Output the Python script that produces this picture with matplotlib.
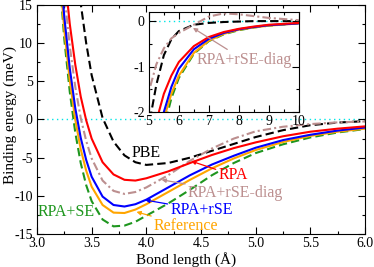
import matplotlib
matplotlib.use('Agg')
import matplotlib.pyplot as plt
from matplotlib.ticker import MultipleLocator, FormatStrFormatter

plt.rcParams['font.family'] = ['Liberation Serif', 'DejaVu Serif']
plt.rcParams['axes.unicode_minus'] = False

#
# Data, bond length in Angstrom, energy in meV
#

bond_length = [3.2, 3.25, 3.3, 3.35, 3.4, 3.45, 3.5, 3.6, 3.7, 3.8, 3.9, 4.0, 4.2, 4.4,
               4.6, 4.8, 5.0, 5.25, 5.5, 5.75, 6.0, 6.5, 7.0, 7.5, 8.0, 8.5, 9.0, 10.0]

pbe = [60.0, 44.0, 30.0, 21.5, 15.2, 10.0, 5.8, 0.2, -2.9, -4.7, -5.6, -5.95, -5.7, -5.0,
       -4.1, -3.2, -2.3, -1.4, -0.75, -0.4, -0.22, -0.08, -0.04, -0.02, -0.01, 0.0, 0.0, 0.0]

rpa = [28.2, 19.4, 12.5, 7.2, 3.0, -0.1, -2.5, -5.6, -7.2, -7.9, -8.0, -7.7, -6.8, -5.7,
       -4.65, -3.75, -3.0, -2.2, -1.6, -1.2, -0.9, -0.55, -0.35, -0.24, -0.17, -0.12, -0.08, -0.04]

rpa_rse_diag = [25.4, 16.5, 9.6, 4.3, 0.2, -2.8, -5.1, -8.0, -9.35, -9.75, -9.5, -8.9, -7.3, -5.4,
                -3.8, -2.5, -1.55, -0.95, -0.6, -0.38, -0.26, -0.08, 0.1, 0.17, 0.15, 0.11, 0.07, 0.02]

rpa_rse = [22.2, 13.4, 6.7, 1.5, -2.4, -5.3, -7.5, -10.1, -11.2, -11.4, -11.1, -10.5, -8.9, -7.3,
           -5.9, -4.75, -3.7, -2.7, -2.0, -1.45, -1.05, -0.62, -0.39, -0.26, -0.18, -0.13, -0.09, -0.05]

reference = [20.5, 11.7, 5.1, 0.0, -3.9, -6.7, -8.8, -11.2, -12.2, -12.25, -11.8, -11.1, -9.5, -7.9,
             -6.4, -5.1, -4.0, -2.95, -2.15, -1.6, -1.2, -0.7, -0.43, -0.28, -0.19, -0.14, -0.1, -0.05]

rpa_se = [19.7, 10.5, 3.6, -1.7, -5.7, -8.6, -10.7, -13.1, -14.0, -13.9, -13.4, -12.6, -11.0, -9.2,
          -7.3, -5.7, -4.4, -3.25, -2.35, -1.7, -1.25, -0.72, -0.44, -0.29, -0.2, -0.14, -0.1, -0.05]

c_pbe = 'black'
c_rpa = 'red'
c_diag = '#bc8f8f'
c_rse = 'blue'
c_ref = '#ffa500'
c_se = '#1e961e'

lw = 1.5


def draw_curves(ax):
    ax.axhline(0, color='#00e5e5', lw=1.0, ls=(0, (1, 2.5)), zorder=1)
    ax.plot(bond_length, pbe, color=c_pbe, lw=lw, ls=(0, (4, 2)))
    ax.plot(bond_length, rpa_rse_diag, color=c_diag, lw=lw, ls=(0, (4, 1.5, 1, 1.5)))
    ax.plot(bond_length, rpa_se, color=c_se, lw=lw, ls=(0, (4, 2)))
    ax.plot(bond_length, reference, color=c_ref, lw=lw)
    ax.plot(bond_length, rpa_rse, color=c_rse, lw=lw)
    ax.plot(bond_length, rpa, color=c_rpa, lw=lw)


def style_ticks(ax, size):
    ax.tick_params(which='both', direction='in', top=True, right=True, labelsize=size, pad=3)
    ax.tick_params(which='major', length=5, width=0.8)
    ax.tick_params(which='minor', length=2.5, width=0.8)
    for s in ax.spines.values():
        s.set_linewidth(0.8)


fig = plt.figure(figsize=(3.74, 2.67), dpi=100)

# main plot
ax = fig.add_axes([0.0989, 0.1236, 0.877, 0.8577])
draw_curves(ax)
ax.set_xlim(3.0, 6.0)
ax.set_ylim(-15, 15)
ax.xaxis.set_major_locator(MultipleLocator(0.5))
ax.xaxis.set_minor_locator(MultipleLocator(0.25))
ax.yaxis.set_major_locator(MultipleLocator(5))
ax.yaxis.set_minor_locator(MultipleLocator(2.5))
ax.xaxis.set_major_formatter(FormatStrFormatter('%.1f'))
style_ticks(ax, 10)
ax.tick_params(axis='x', pad=2)
ax.set_xlabel('Bond length (Å)', fontsize=11)
ax.xaxis.set_label_coords(0.455, -0.077)
ax.set_ylabel('Binding energy (meV)', fontsize=11)
ax.yaxis.set_label_coords(-0.062, 0.52)

fs = 11.5
arrow = dict(arrowstyle='-|>', lw=0.9, mutation_scale=6, shrinkA=0, shrinkB=0)
ax.text(4.0, -4.4, 'PBE', color=c_pbe, fontsize=fs, ha='center', va='center')
ax.annotate('RPA', xy=(4.41, -5.45), xytext=(4.66, -7.3), color=c_rpa, fontsize=fs,
            va='center', arrowprops=dict(arrow, color=c_rpa))
ax.annotate('RPA+rSE-diag', xy=(4.14, -7.9), xytext=(4.38, -9.6), color=c_diag, fontsize=fs,
            va='center', arrowprops=dict(arrow, color=c_diag))
ax.annotate('RPA+rSE', xy=(3.99, -10.55), xytext=(4.22, -11.85), color=c_rse, fontsize=fs,
            va='center', arrowprops=dict(arrow, color=c_rse))
ax.annotate('Reference', xy=(3.91, -12.1), xytext=(4.07, -13.95), color=c_ref, fontsize=fs,
            va='center', arrowprops=dict(arrow, color=c_ref))
ax.text(3.01, -12.1, 'RPA+SE', color=c_se, fontsize=fs, va='center')

# inset
axin = fig.add_axes([0.398, 0.5805, 0.401, 0.3745])
draw_curves(axin)
axin.set_xlim(5, 10)
axin.set_ylim(-2, 0.2)
axin.xaxis.set_major_locator(MultipleLocator(1))
axin.xaxis.set_minor_locator(MultipleLocator(0.5))
axin.yaxis.set_major_locator(MultipleLocator(1))
axin.yaxis.set_minor_locator(MultipleLocator(0.5))
style_ticks(axin, 10)
axin.tick_params(axis='x', pad=2)
axin.tick_params(axis='y', pad=3)
axin.annotate('RPA+rSE-diag', xy=(6.47, -0.15), xytext=(6.6, -0.86), color=c_diag, fontsize=fs,
              va='center', arrowprops=dict(arrow, color=c_diag))

fig.savefig('out.png', dpi=100)
